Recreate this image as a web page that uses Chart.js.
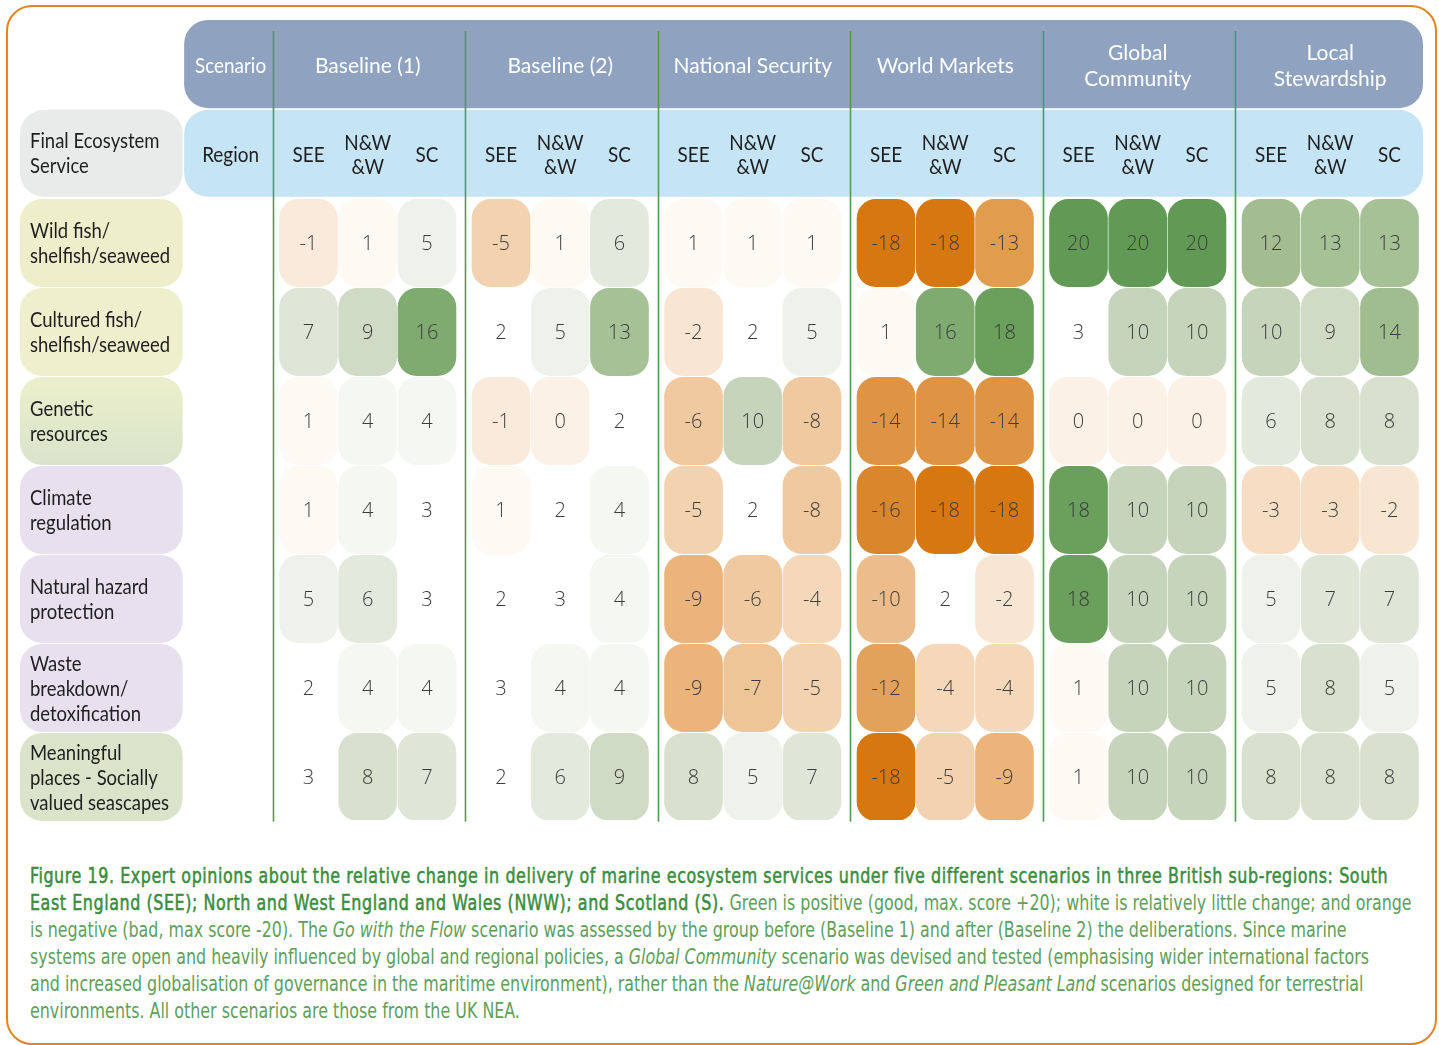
<!DOCTYPE html>
<html>
<head>
<meta charset="utf-8">
<script src="https://cdn.jsdelivr.net/npm/chart.js@4.4.1/dist/chart.umd.min.js"></script>
<style>
html,body{margin:0;padding:0;background:#fff;width:1439px;height:1045px;overflow:hidden;}
#frame{position:absolute;left:6px;top:5px;width:1431px;height:1040px;border:2.5px solid #e0861f;border-radius:26px;box-sizing:border-box;}
#wrap{position:absolute;left:0;top:0;width:1439px;height:840px;}
#cap{position:absolute;left:30px;top:862px;font-family:"Liberation Sans Narrow","DejaVu Sans Condensed","Liberation Sans",sans-serif;font-size:22px;line-height:27px;color:#5ea05b;transform-origin:0 0;white-space:nowrap;}
#cap .l{display:block;}
#cap .l span.m{display:inline-block;}
#cap b{color:#3b8d3d;font-weight:400;-webkit-text-stroke:0.55px #3b8d3d;}
</style>
</head>
<body>
<div id="frame"></div>
<div id="wrap"><canvas id="c" width="1439" height="840"></canvas></div>
<div id="cap">
<div class="l"><span class="m" id="l1"><b>Figure 19. Expert opinions about the relative change in delivery of marine ecosystem services under five different scenarios in three British sub-regions: South</b></span></div>
<div class="l"><span class="m"><b>East England (SEE); North and West England and Wales (NWW); and Scotland (S).</b> Green is positive (good, max. score +20); white is relatively little change; and orange</span></div>
<div class="l"><span class="m" id="l3">is negative (bad, max score -20). The <i>Go with the Flow</i> scenario was assessed by the group before (Baseline 1) and after (Baseline 2) the deliberations. Since marine</span></div>
<div class="l"><span class="m">systems are open and heavily influenced by global and regional policies, a <i>Global Community</i> scenario was devised and tested (emphasising wider international factors</span></div>
<div class="l"><span class="m">and increased globalisation of governance in the maritime environment), rather than the <i>Nature@Work</i> and <i>Green and Pleasant Land</i> scenarios designed for terrestrial</span></div>
<div class="l"><span class="m">environments. All other scenarios are those from the UK NEA.</span></div>
</div>
<script>
// ---------------- DATA ----------------
const scenarioLabels = [['Baseline (1)'], ['Baseline (2)'], ['National Security'], ['World Markets'], ['Global', 'Community'], ['Local', 'Stewardship']];
const regionLabels = [['SEE'], ['N&W', '&W'], ['SC']];
const serviceLabels = [
  ['Wild fish/', 'shelfish/seaweed'],
  ['Cultured fish/', 'shelfish/seaweed'],
  ['Genetic', 'resources'],
  ['Climate', 'regulation'],
  ['Natural hazard', 'protection'],
  ['Waste', 'breakdown/', 'detoxification'],
  ['Meaningful', 'places - Socially', 'valued seascapes']
];
const cornerLabel = ['Final Ecosystem', 'Service'];
const scenarioHeader = 'Scenario';
const regionHeader = 'Region';
// values per scenario: rows = services, columns = SEE, N&W&W, SC
const baseline1 = [[-1, 1, 5], [7, 9, 16], [1, 4, 4], [1, 4, 3], [5, 6, 3], [2, 4, 4], [3, 8, 7]];
const baseline2 = [[-5, 1, 6], [2, 5, 13], [-1, 0, 2], [1, 2, 4], [2, 3, 4], [3, 4, 4], [2, 6, 9]];
const nationalSecurity = [[1, 1, 1], [-2, 2, 5], [-6, 10, -8], [-5, 2, -8], [-9, -6, -4], [-9, -7, -5], [8, 5, 7]];
const worldMarkets = [[-18, -18, -13], [1, 16, 18], [-14, -14, -14], [-16, -18, -18], [-10, 2, -2], [-12, -4, -4], [-18, -5, -9]];
const globalCommunity = [[20, 20, 20], [3, 10, 10], [0, 0, 0], [18, 10, 10], [18, 10, 10], [1, 10, 10], [1, 10, 10]];
const localStewardship = [[12, 13, 13], [10, 9, 14], [6, 8, 8], [-3, -3, -2], [5, 7, 7], [5, 8, 5], [8, 8, 8]];
const scenarioValues = [baseline1, baseline2, nationalSecurity, worldMarkets, globalCommunity, localStewardship];

// ---------------- STYLE ----------------
const palette = {
  '-18': '#d6770f', '-16': '#da862d', '-14': '#df9443', '-13': '#e19c4d', '-12': '#e2a25c',
  '-10': '#ecbd8b', '-9': '#eab47b', '-8': '#f0c9a0', '-7': '#eec596', '-6': '#f0c9a0',
  '-5': '#f3d2af', '-4': '#f5d8b9', '-3': '#f6ddc4', '-2': '#f8e6d3', '-1': '#f9eadb',
  '0': '#fcf1e7', '1': '#fdfaf4', '2': '#ffffff', '3': '#ffffff', '4': '#f5f7f2',
  '5': '#eef2eb', '6': '#e3e9dc', '7': '#dfe5d7', '8': '#d7e1cd', '9': '#cfdbc5',
  '10': '#c6d4bb', '12': '#a3bd91', '13': '#a6c196', '14': '#a0bd8f', '16': '#80ab70',
  '18': '#6a9f5c', '20': '#619a55'
};
const colorFor = v => palette[String(v)] || '#ffffff';
const rowBoxColors = ['#eeeecb', '#eeefcc', null, '#e6e0ef', '#e6e0ef', '#e6e0ef', '#d9e4cb'];

// layout in axis units
const GROUP_STEP = 3.25;
const X_MIN = -4.871, X_MAX = 18.816, Y_MIN = -2.506, Y_MAX = 6.483;
const LABEL_LEFT = -4.871, LABEL_RIGHT = -2.125, HEAD_LEFT = -2.10, TABLE_RIGHT = 18.816;
const SEP_OFFSET = -0.6;
const BAND1 = [-2.506, -1.515], BAND2 = [-1.497, -0.52];
const LINE_TOP = -2.382;
const HALF = 0.494;

const cells = [];
const columnPositions = [];
scenarioValues.forEach((rows, g) => {
  regionLabels.forEach((_, i) => columnPositions.push(g * GROUP_STEP + i));
  rows.forEach((vals, r) => vals.forEach((v, i) => {
    cells.push({ x: g * GROUP_STEP + i, y: [r - HALF, r + HALF], v });
  }));
});

const HFONT = '"Lato","Liberation Sans",sans-serif';

function drawText(ctx, str, px, py, align, font, color, sq) {
  ctx.save();
  ctx.font = font;
  ctx.fillStyle = color;
  ctx.textBaseline = 'middle';
  ctx.textAlign = align;
  ctx.translate(px, py);
  ctx.scale(sq, 1);
  ctx.fillText(str, 0, 0);
  ctx.restore();
}
function drawLines(ctx, lines, px, pyCenter, lh, align, font, color, sq) {
  const n = lines.length;
  lines.forEach((s, k) => drawText(ctx, s, px, pyCenter + (k - (n - 1) / 2) * lh, align, font, color, sq));
}

const tablePlugin = {
  id: 'tableDecor',
  beforeDatasetsDraw(chart) {
    const { ctx, scales: { x, y } } = chart;
    const X = v => x.getPixelForValue(v), Y = v => y.getPixelForValue(v);
    const box = (x0, x1, y0, y1, r, fill) => {
      ctx.beginPath();
      ctx.roundRect(X(x0), Y(y0), X(x1) - X(x0), Y(y1) - Y(y0), r);
      ctx.fillStyle = fill;
      ctx.fill();
    };
    // header bands
    box(HEAD_LEFT, TABLE_RIGHT, BAND1[0], BAND1[1], 24, '#8fa2c0');
    box(HEAD_LEFT, TABLE_RIGHT, BAND2[0], BAND2[1], 24, '#c5e5f6');
    box(LABEL_LEFT, LABEL_RIGHT, BAND2[0], BAND2[1], 24, '#e9ebea');
    // row label boxes
    serviceLabels.forEach((_, r) => {
      let fill = rowBoxColors[r];
      if (!fill) {
        const gr = ctx.createLinearGradient(0, Y(r - HALF), 0, Y(r + HALF));
        gr.addColorStop(0, '#ecefcb');
        gr.addColorStop(1, '#d9e4cb');
        fill = gr;
      }
      box(LABEL_LEFT, LABEL_RIGHT, r - HALF, r + HALF, 22, fill);
    });
    // separator lines
    ctx.save();
    ctx.strokeStyle = '#4f9d52';
    ctx.lineWidth = 1.6;
    scenarioLabels.forEach((_, g) => {
      const px = Math.round(X(SEP_OFFSET + g * GROUP_STEP)) + 0.5;
      ctx.beginPath();
      ctx.moveTo(px, Y(LINE_TOP));
      ctx.lineTo(px, Y(serviceLabels.length - 1 + HALF + 0.01));
      ctx.stroke();
    });
    ctx.restore();
    // header texts
    const f21 = '21px ' + HFONT;
    const b1c = Y((BAND1[0] + BAND1[1]) / 2) + 2, b2c = Y((BAND2[0] + BAND2[1]) / 2) + 1.5;
    const headColX = X((HEAD_LEFT + SEP_OFFSET) / 2) + 2;
    drawText(ctx, scenarioHeader, headColX, b1c, 'center', f21, '#ffffff', 0.9);
    drawText(ctx, regionHeader, headColX, b2c, 'center', f21, '#1e1e1e', 0.9);
    scenarioLabels.forEach((lines, g) => {
      drawLines(ctx, lines, X(g * GROUP_STEP + 1), b1c, 26, 'center', f21, '#ffffff', 1.0);
      regionLabels.forEach((rl, i) => {
        drawLines(ctx, rl, X(g * GROUP_STEP + i), b2c, 24, 'center', f21, '#1e1e1e', 0.9);
      });
    });
    const labelX = X(LABEL_LEFT) + 10;
    drawLines(ctx, cornerLabel, labelX, b2c - 1, 25, 'left', f21, '#1e1e1e', 0.88);
    serviceLabels.forEach((lines, r) => {
      drawLines(ctx, lines, labelX, Y(r) + 1, 25, 'left', f21, '#1e1e1e', 0.88);
    });
  },
  afterDatasetsDraw(chart) {
    const { ctx } = chart;
    const meta = chart.getDatasetMeta(0);
    ctx.save();
    ctx.font = '300 20px "Open Sans","Liberation Sans",sans-serif';
    ctx.fillStyle = '#3c3c3c';
    ctx.textAlign = 'center';
    ctx.textBaseline = 'middle';
    meta.data.forEach((bar, i) => {
      const p = bar.getProps(['x', 'y', 'base'], true);
      ctx.fillText(String(cells[i].v), p.x, (p.y + p.base) / 2 + 1.5);
    });
    ctx.restore();
  }
};

function fitCaption() {
  const cap = document.getElementById('cap');
  const l1 = document.getElementById('l1'), l3 = document.getElementById('l3');
  const s = 1317 / l3.offsetWidth;             // regular text width target
  const want1 = 1358 / s;                        // bold text width target (unscaled)
  const n1 = l1.textContent.length;
  const extra = (want1 - l1.offsetWidth) / n1;
  document.querySelectorAll('#cap b').forEach(b => { b.style.letterSpacing = extra.toFixed(3) + 'px'; });
  cap.style.transform = 'scaleX(' + s + ')';
}

function build() {
  new Chart(document.getElementById('c'), {
    type: 'bar',
    data: {
      datasets: [{
        data: cells,
        backgroundColor: c => colorFor(c.raw ? c.raw.v : 0),
        borderWidth: 0,
        borderRadius: 19,
        borderSkipped: false,
        barPercentage: 0.99,
        categoryPercentage: 1
      }]
    },
    options: {
      responsive: false,
      animation: false,
      devicePixelRatio: 1,
      layout: { padding: { left: 20, right: 16, top: 20, bottom: 20 } },
      scales: {
        x: {
          type: 'linear', min: X_MIN, max: X_MAX, display: false, offset: false,
          afterBuildTicks: s => { s.ticks = columnPositions.map(v => ({ value: v })); }
        },
        y: { type: 'linear', min: Y_MIN, max: Y_MAX, reverse: true, display: false }
      },
      plugins: { legend: { display: false }, tooltip: { enabled: false } }
    },
    plugins: [tablePlugin]
  });
  fitCaption();
}
if (document.fonts && document.fonts.ready) {
  document.fonts.load('21px Lato').then(() => document.fonts.load('20px "Open Sans"')).then(build, build);
} else { build(); }
</script>
</body>
</html>
